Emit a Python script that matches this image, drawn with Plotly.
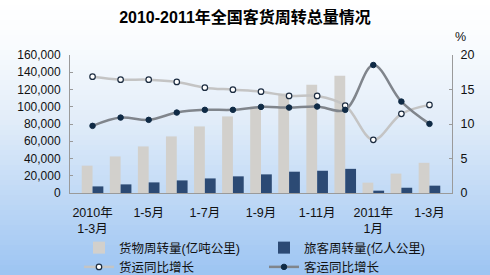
import plotly.graph_objects as go

categories = ["2010年1-3月", "2010年1-4月", "2010年1-5月", "2010年1-6月", "2010年1-7月",
              "2010年1-8月", "2010年1-9月", "2010年1-10月", "2010年1-11月", "2010年1-12月",
              "2011年1月", "2011年1-2月", "2011年1-3月"]
freight_turnover = [31700, 42400, 54000, 65600, 77200, 88800, 100400, 115400, 125600, 136000, 12000, 22500, 35000]
passenger_turnover = [7650, 10000, 12300, 14600, 16900, 19300, 21600, 24700, 25800, 28000, 2700, 6100, 8500]
freight_growth = [16.86, 16.43, 16.43, 16.1, 15.27, 14.98, 14.69, 14.07, 14.07, 12.67, 7.71, 11.47, 12.77]
passenger_growth = [9.73, 10.93, 10.6, 11.66, 12.05, 12.05, 12.48, 12.38, 12.53, 12.05, 18.55, 13.25, 10.02]
tick_idx = [0, 2, 4, 6, 8, 10, 12]
tick_text = ["2010年<br>1-3月", "1-5月", "1-7月", "1-9月", "1-11月", "2011年<br>1月", "1-3月"]

W, H = 490, 275
ML, MR, MT, MB = 70, 38, 55, 82
FONT = "Liberation Sans, Arial, Noto Sans CJK SC"

fig = go.Figure()
fig.add_trace(go.Bar(x=categories, y=freight_turnover, name="货物周转量(亿吨公里)",
                     marker=dict(color="#d2d0cc", line=dict(width=0))))
fig.add_trace(go.Bar(x=categories, y=passenger_turnover, name="旅客周转量(亿人公里)",
                     marker=dict(color="#2c4a74", line=dict(width=0))))
fig.add_trace(go.Scatter(x=categories, y=freight_growth, name="货运同比增长", yaxis="y2",
                         mode="lines+markers", line=dict(color="#c4c4c4", width=2.5, shape="spline"),
                         marker=dict(size=5.5, color="white", line=dict(color="#1c2c40", width=1.2))))
fig.add_trace(go.Scatter(x=categories, y=passenger_growth, name="客运同比增长", yaxis="y2",
                         mode="lines+markers", line=dict(color="#80858c", width=2.5, shape="spline"),
                         marker=dict(size=5.5, color="#0f2a45", line=dict(color="#0f2a45", width=1))))

# background gradient stripes (paper-relative)
ph = H - MT - MB
pw = W - ML - MR
stops = [(0, (255, 255, 255)), (40, (250, 252, 254)), (120, (226, 237, 249)), (275, (156, 196, 242))]
def col_at(p):
    for (p0, c0), (p1, c1) in zip(stops[:-1], stops[1:]):
        if p0 <= p <= p1:
            t = (p - p0) / (p1 - p0)
            return "rgb(%d,%d,%d)" % tuple(round(a + (b - a) * t) for a, b in zip(c0, c1))
    return "rgb(%d,%d,%d)" % stops[-1][1]
shapes = []
N = 55
for i in range(N):
    p0 = H * i / N
    p1 = H * (i + 1) / N + 0.6
    shapes.append(dict(type="rect", xref="paper", yref="paper", layer="below",
                       x0=-ML / pw, x1=(W - ML) / pw,
                       y0=(H - MB - p1) / ph, y1=(H - MB - p0) / ph,
                       fillcolor=col_at((p0 + p1) / 2), line=dict(width=0)))

fig.update_layout(
    width=W, height=H, margin=dict(l=ML, r=MR, t=MT, b=MB, autoexpand=False),
    paper_bgcolor="#eef4fb", plot_bgcolor="rgba(0,0,0,0)",
    shapes=shapes,
    font=dict(family=FONT, size=12.5, color="#111111"),
    title=dict(text="<b>2010-2011年全国客货周转总量情况</b>", x=0.5, xanchor="center",
               y=1 - 17 / H, yanchor="middle", font=dict(size=16, color="#000000")),
    barmode="group", bargap=0.23, bargroupgap=0,
    showlegend=True,
    legend=dict(orientation="h", x=9 / pw, xanchor="left",
                y=(H - MB - 233) / ph, yanchor="top", entrywidth=140, traceorder="normal",
                font=dict(size=12.5, color="#111111"), bgcolor="rgba(0,0,0,0)",
                tracegroupgap=0, itemwidth=30),
    xaxis=dict(type="category", tickvals=[categories[i] for i in tick_idx], ticktext=tick_text,
               showline=True, linecolor="#9a9a9a", linewidth=1, ticks="", showgrid=False,
               tickfont=dict(size=12.5), tickangle=0, ticklabelstandoff=8),
    yaxis=dict(range=[0, 160000], dtick=20000, tickformat=",", showline=True, linecolor="#9a9a9a",
               linewidth=1, ticks="inside", ticklen=3, tickcolor="#9a9a9a", showgrid=False,
               zeroline=False, tickfont=dict(size=12), ticklabelstandoff=6),
    yaxis2=dict(range=[0, 20], dtick=5, overlaying="y", side="right", showline=True,
                linecolor="#9a9a9a", linewidth=1, ticks="inside", ticklen=3, tickcolor="#9a9a9a",
                showgrid=False, zeroline=False, tickfont=dict(size=12.5), ticklabelstandoff=5),
    annotations=[dict(text="%", xref="paper", yref="paper", x=(460 - ML) / pw, y=(H - MB - 37) / ph,
                      showarrow=False, font=dict(size=12.5), xanchor="center", yanchor="middle")],
)

fig.write_html("out.html")
